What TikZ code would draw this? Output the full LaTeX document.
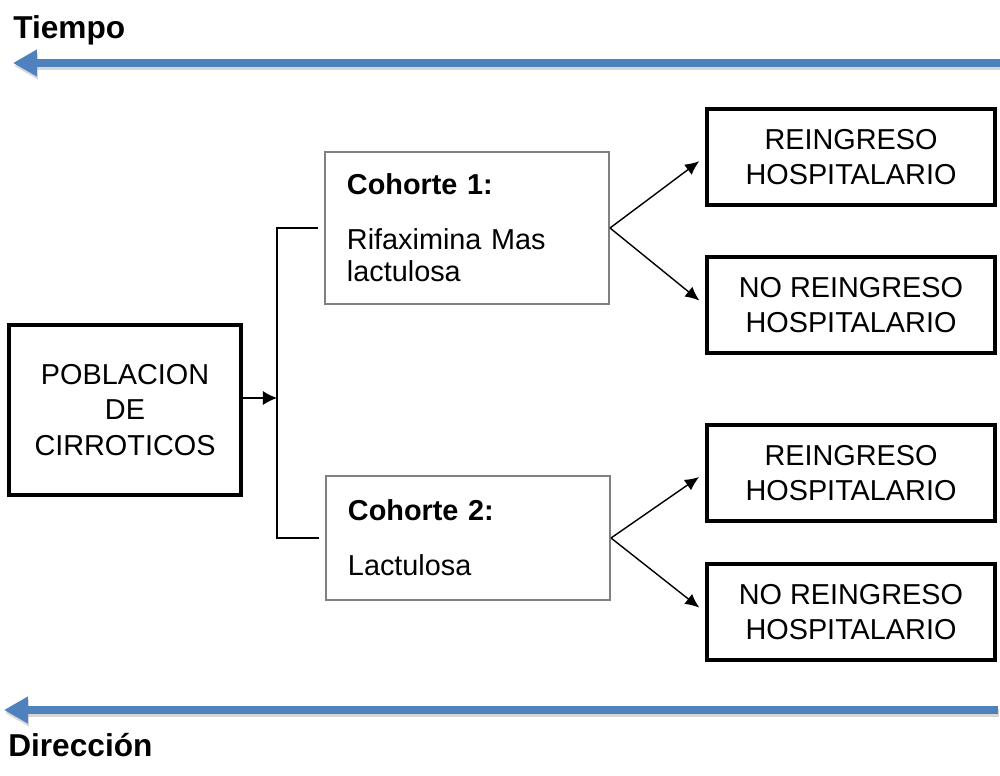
\documentclass[tikz,border=0pt]{standalone}
\usepackage{fontspec}
\setmainfont{Liberation Sans}
\usetikzlibrary{arrows.meta}

\definecolor{timeblue}{RGB}{79,129,189}

\begin{document}
\begin{tikzpicture}[x=0.025cm, y=-0.025cm,
        every node/.style={font=\fontsize{20.5}{25}\selectfont},
        pop node/.style={rectangle,draw,line width=3pt,minimum width=5.8cm,minimum height=4.25cm,align=center},
        cohort node/.style={rectangle,draw=black!50,line width=1.4pt,text width=6.0cm,inner xsep=0.55cm,align=left,font=\fontsize{20.5}{23}\selectfont},
        outcome node/.style={rectangle,draw,line width=3pt,minimum width=7.2cm,minimum height=2.4cm,align=center},
        title node/.style={anchor=west,inner sep=0pt,font=\fontsize{22.5}{26}\selectfont\bfseries},
        time arrow/.style={line width=5.2pt,timeblue,-{Triangle[length=17pt,width=18pt]}},
        time shadow/.style={line width=5.2pt,black!35,opacity=0.45,-{Triangle[length=17pt,width=18pt]}}]

    \useasboundingbox (0,0) rectangle (1000,776);

    % titles
    \node[title node] (tiempo) at (13,30) {Tiempo};
    \node[title node] (direccion) at (8,745) {Dirección};

    % time arrows
    \coordinate (t0) at (1000,63);
    \coordinate (t1) at (13,63);
    \coordinate (d0) at (998,710);
    \coordinate (d1) at (4,710);
    \draw[time shadow] ([shift={(1,3)}]t0) -- ([shift={(1,3)}]t1);
    \draw[time shadow] ([shift={(1,3)}]d0) -- ([shift={(1,3)}]d1);
    \draw[time arrow] (t0) -- (t1);
    \draw[time arrow] (d0) -- (d1);

    % population and cohorts
    \node[pop node] (pop) at (125,410) {POBLACION\\DE\\CIRROTICOS};
    \node[cohort node,minimum height=3.8cm] (c1) at (467,228)
        {\textbf{Cohorte 1:}\\[16pt]Rifaximina Mas\\lactulosa};
    \node[cohort node,minimum height=3.1cm] (c2) at (468,538)
        {\textbf{Cohorte 2:}\\[16pt]Lactulosa};

    \coordinate (split) at (277,398);
    \draw[line width=1pt,-{Latex[length=10pt,width=10pt]}] (pop.east |- split) -- (split);
    \draw[line width=1pt] ([xshift=-4pt]c1.west) -| (split) |- ([xshift=-4pt]c2.west);

    % outcomes
    \node[outcome node] (o1) at (851,157) {REINGRESO\\HOSPITALARIO};
    \node[outcome node] (o2) at (851,305) {NO REINGRESO\\HOSPITALARIO};
    \node[outcome node] (o3) at (851,473) {REINGRESO\\HOSPITALARIO};
    \node[outcome node] (o4) at (851,612) {NO REINGRESO\\HOSPITALARIO};

    \path[line width=1pt,-{Latex[length=10pt,width=9pt]},shorten >=5pt]
        (c1.east) edge (o1.west)
        (c1.east) edge (o2.west)
        (c2.east) edge (o3.west)
        (c2.east) edge (o4.west);
\end{tikzpicture}
\end{document}
